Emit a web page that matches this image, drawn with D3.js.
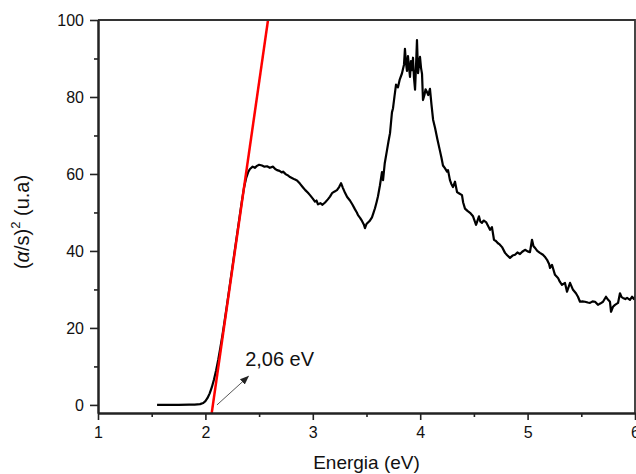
<!DOCTYPE html>
<html>
<head>
<meta charset="utf-8">
<script src="https://cdn.jsdelivr.net/npm/d3@7"></script>
<style>
body { margin: 0; background: #fff; }
text { font-family: "Liberation Sans", Arial, sans-serif; fill: #111; }
</style>
</head>
<body>
<svg id="chart" width="636" height="474"></svg>
<script>
// spectrum (energy in eV, (alpha/s)^2 in u.a)
var energy = [1.55,1.65,1.75,1.85,1.90,1.95,1.98,2.00,2.02,2.04,2.06,2.08,2.10,2.12,2.14,2.16,2.18,2.20,2.22,2.24,
	2.26,2.28,2.30,2.32,2.34,2.36,2.38,2.40,2.415,2.44,2.46,2.48,2.50,2.527,2.55,2.574,2.60,2.63,2.65,2.667,
	2.69,2.71,2.723,2.75,2.77,2.788,2.81,2.83,2.853,2.88,2.909,2.93,2.955,2.974,3.00,3.02,3.035,3.048,3.07,3.09,
	3.114,3.14,3.16,3.179,3.20,3.225,3.245,3.263,3.28,3.30,3.32,3.346,3.37,3.393,3.41,3.421,3.44,3.458,3.475,3.486,
	3.50,3.514,3.53,3.551,3.565,3.579,3.595,3.607,3.625,3.644,3.654,3.67,3.691,3.705,3.719,3.737,3.747,3.76,3.775,3.793,
	3.81,3.83,3.849,3.858,3.867,3.877,3.886,3.895,3.905,3.914,3.923,3.933,3.942,3.952,3.961,3.97,3.98,3.989,3.998,4.008,
	4.017,4.026,4.04,4.05,4.063,4.075,4.091,4.105,4.12,4.138,4.16,4.184,4.198,4.212,4.23,4.25,4.259,4.277,4.29,4.305,
	4.324,4.343,4.36,4.389,4.40,4.417,4.44,4.464,4.48,4.492,4.52,4.547,4.56,4.575,4.59,4.613,4.63,4.65,4.668,4.687,
	4.705,4.724,4.74,4.762,4.79,4.81,4.836,4.86,4.883,4.905,4.929,4.95,4.976,5.00,5.022,5.041,5.055,5.069,5.09,5.115,
	5.143,5.16,5.181,5.20,5.209,5.227,5.255,5.283,5.30,5.32,5.348,5.367,5.395,5.423,5.45,5.469,5.488,5.51,5.534,5.56,
	5.581,5.605,5.628,5.655,5.68,5.702,5.73,5.75,5.767,5.777,5.795,5.814,5.842,5.86,5.875,5.888,5.91,5.926,5.953,5.972,
	5.99,6.01];
var absorb = [0,0,0,0.05,0.1,0.2,0.5,1.0,1.8,3.0,4.6,6.6,9.0,11.8,15.0,18.3,22.0,25.8,29.7,33.6,
	37.5,41.4,45.3,49.2,53.0,56.5,59.0,60.6,61.3,61.9,61.6,62.1,62.4,62.2,61.9,62.0,61.6,61.9,61.3,61.0,
	60.8,60.4,60.6,59.9,59.6,59.2,58.9,58.6,58.3,57.5,56.5,55.8,55.1,54.5,53.6,52.8,53.1,52.1,52.4,52.0,
	52.6,53.4,54.1,55.0,55.4,55.8,56.6,57.6,56.4,55.1,54.0,53.1,52.0,50.8,50.0,49.3,48.6,47.8,46.9,45.9,
	47.0,47.4,47.8,48.7,49.9,51.1,52.8,54.2,57.0,60.5,58.4,62.8,66.2,68.5,70.6,76.0,77.1,80.0,83.2,82.5,
	84.6,86.1,88.4,92.5,89.0,86.8,90.6,88.0,85.2,89.3,87.0,90.2,85.0,81.9,88.0,94.8,86.2,88.4,90.4,87.5,
	86.0,79.2,80.6,82.0,81.3,80.5,82.1,78.0,74.1,72.0,69.0,66.0,64.2,62.2,61.5,60.6,61.0,58.4,57.4,56.6,
	58.0,55.3,55.0,54.5,52.6,51.0,50.4,49.9,49.4,49.0,46.8,49.0,47.6,47.3,47.9,47.5,46.6,45.5,46.2,42.9,
	42.6,42.0,41.7,41.0,39.5,38.9,38.2,38.8,39.0,39.6,39.2,39.8,40.3,39.9,39.7,42.9,41.2,40.8,40.0,39.5,
	39.0,38.5,37.7,36.6,35.6,36.4,33.8,33.0,32.0,31.2,31.7,29.4,31.7,29.9,29.0,28.1,26.8,26.9,26.8,26.6,
	26.5,26.9,26.8,26.0,26.4,26.8,28.1,27.3,26.8,24.2,25.5,26.0,26.5,29.0,28.0,27.8,27.5,27.8,27.3,28.1,
	27.5,28.6];

// linear fit of the absorption edge
var fitEnergy = [2.059, 2.583];
var fitValue = [-2.1, 100];

var xTicks = [1, 2, 3, 4, 5, 6];
var xMinor = [1.5, 2.5, 3.5, 4.5, 5.5];
var yTicks = [0, 20, 40, 60, 80, 100];
var yMinor = [10, 30, 50, 70, 90];

// arrow pointing at the gap: from, to, label
var gapArrow = [[2.108, 0], [2.40, 7.4]];
var gapLabel = "2,06 eV";
var gapLabelAt = [2.37, 10.2];

var margin = {left: 98, right: 635, top: 20, bottom: 413};

var svg = d3.select("#chart");

var x = d3.scaleLinear().domain([1, 6]).range([margin.left, margin.right]);
var y = d3.scaleLinear().domain([-2.1, 100]).range([margin.bottom, margin.top]);

var defs = svg.append("defs");
defs.append("clipPath").attr("id", "plotClip")
	.append("rect")
	.attr("x", margin.left).attr("y", margin.top)
	.attr("width", margin.right - margin.left).attr("height", margin.bottom - margin.top);

defs.append("marker")
	.attr("id", "arrowHead")
	.attr("viewBox", "0 0 10 10")
	.attr("refX", 9).attr("refY", 5)
	.attr("markerWidth", 9).attr("markerHeight", 9)
	.attr("markerUnits", "userSpaceOnUse")
	.attr("orient", "auto")
	.append("path")
	.attr("d", "M0,1L10,5L0,9Z")
	.attr("fill", "#222");

var plot = svg.append("g").attr("clip-path", "url(#plotClip)");

var pts = energy.map(function(e, i) { return [e, absorb[i]]; });

plot.append("path")
	.datum(pts)
	.attr("fill", "none")
	.attr("stroke", "#000")
	.attr("stroke-width", 2.2)
	.attr("stroke-linejoin", "round")
	.attr("d", d3.line().x(function(d) { return x(d[0]); }).y(function(d) { return y(d[1]); }));

plot.append("line")
	.attr("x1", x(fitEnergy[0])).attr("y1", y(fitValue[0]))
	.attr("x2", x(fitEnergy[1])).attr("y2", y(fitValue[1]))
	.attr("stroke", "#ff0000")
	.attr("stroke-width", 2.5);

// arrow + label
svg.append("line")
	.attr("x1", x(gapArrow[0][0])).attr("y1", y(gapArrow[0][1]))
	.attr("x2", x(gapArrow[1][0])).attr("y2", y(gapArrow[1][1]))
	.attr("stroke", "#444")
	.attr("stroke-width", 0.9)
	.attr("marker-end", "url(#arrowHead)");

svg.append("text")
	.attr("x", x(gapLabelAt[0])).attr("y", y(gapLabelAt[1]))
	.style("font-size", "20px")
	.text(gapLabel);

// frame (top and right)
svg.append("path")
	.attr("d", "M" + margin.left + "," + margin.top + "H" + margin.right + "V" + margin.bottom)
	.attr("fill", "none")
	.attr("stroke", "#333")
	.attr("stroke-width", 1.8);

//axes
function styleAxis(g) {
	g.attr("font-size", null).attr("font-family", null);
	g.select(".domain").attr("stroke", "#222").attr("stroke-width", 2);
	g.selectAll(".tick line").attr("stroke", "#222").attr("stroke-width", 1.6);
	g.selectAll(".tick text")
		.style("font-size", "16px")
		.attr("fill", "#111");
}

svg.append("g")
	.attr("transform", "translate(0," + margin.bottom + ")")
	.call(d3.axisBottom(x).tickValues(xTicks).tickSize(7).tickSizeOuter(0).tickPadding(7).tickFormat(d3.format("d")))
	.call(styleAxis);

svg.append("g")
	.attr("transform", "translate(0," + margin.bottom + ")")
	.call(d3.axisBottom(x).tickValues(xMinor).tickSize(4).tickSizeOuter(0).tickFormat(""))
	.call(styleAxis);

svg.append("g")
	.attr("transform", "translate(" + margin.left + ",0)")
	.call(d3.axisLeft(y).tickValues(yTicks).tickSize(8).tickSizeOuter(0).tickPadding(6).tickFormat(d3.format("d")))
	.call(styleAxis);

svg.append("g")
	.attr("transform", "translate(" + margin.left + ",0)")
	.call(d3.axisLeft(y).tickValues(yMinor).tickSize(4).tickSizeOuter(0).tickFormat(""))
	.call(styleAxis);

// axis titles
svg.append("text")
	.attr("x", (margin.left + margin.right) / 2)
	.attr("y", 469)
	.attr("text-anchor", "middle")
	.style("font-size", "19px")
	.text("Energia (eV)");

var yTitle = svg.append("text")
	.attr("transform", "translate(29,222) rotate(-90)")
	.attr("text-anchor", "middle")
	.style("font-size", "20px");
yTitle.append("tspan").text("(");
yTitle.append("tspan").style("font-style", "italic").text("α");
yTitle.append("tspan").text("/s)");
yTitle.append("tspan").attr("dy", -9).style("font-size", "13px").text("2");
yTitle.append("tspan").attr("dy", 9).text(" (u.a)");
</script>
</body>
</html>
